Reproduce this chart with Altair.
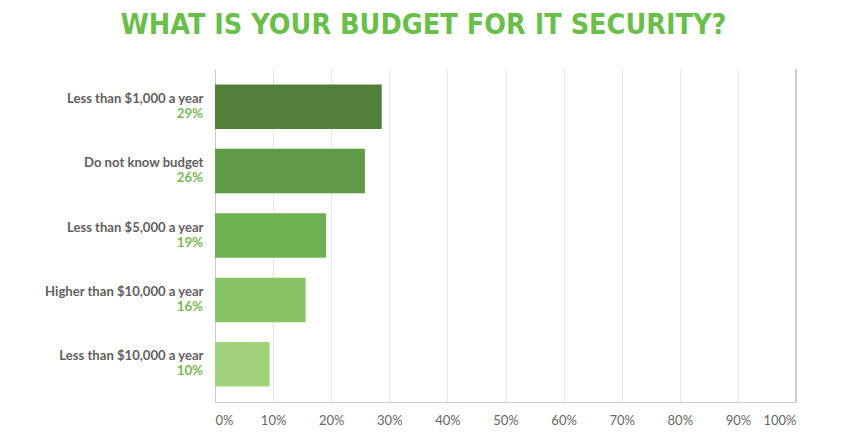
import altair as alt
import pandas as pd

categories = [
    "Less than $1,000 a year",
    "Do not know budget",
    "Less than $5,000 a year",
    "Higher than $10,000 a year",
    "Less than $10,000 a year",
]
values = [28.7, 25.8, 19.1, 15.6, 9.4]
labels = ["29%", "26%", "19%", "16%", "10%"]
colors = ["#517f38", "#5f9a46", "#6db152", "#87c465", "#a0d17b"]
ticks = [0, 10, 20, 30, 40, 50, 60, 70, 80, 90, 100]

df = pd.DataFrame({"category": categories, "value": values, "label": labels})

FONT = "Lato"
y_enc = alt.Y(
    "category:N",
    sort=categories,
    scale=alt.Scale(paddingInner=0.31, paddingOuter=0.24),
    axis=alt.Axis(
        title=None,
        ticks=False,
        domain=True,
        domainColor="#cccccc",
        labelFont=FONT,
        labelFontWeight="bold",
        labelFontSize=13.1,
        labelColor="#5f5f5f",
        labelPadding=12,
        labelOffset=-8,
        labelLimit=300,
    ),
)

bars = alt.Chart(df).mark_bar().encode(
    x=alt.X(
        "value:Q",
        scale=alt.Scale(domain=[0, 100], nice=False),
        axis=alt.Axis(
            title=None,
            values=ticks,
            labelExpr="datum.value + '%'",
            ticks=False,
            domainColor="#cccccc",
            gridColor="#e6e6e6",
            labelFont=FONT,
            labelFontSize=13,
            labelColor="#666666",
            labelPadding=12,
        ),
    ),
    y=y_enc,
    color=alt.Color(
        "category:N",
        scale=alt.Scale(domain=categories, range=colors),
        legend=None,
    ),
)

pct = alt.Chart(df).mark_text(
    align="right", baseline="middle", dy=7, font=FONT, fontWeight="bold",
    fontSize=13.3, color="#78b857",
).encode(
    x=alt.value(-12),
    y=alt.Y("category:N", sort=categories),
    text="label:N",
)

right_rule = alt.Chart(pd.DataFrame({"x": [100]})).mark_rule(color="#bdbdbd", strokeWidth=1.5).encode(
    x="x:Q"
)

chart = (
    alt.layer(bars, pct, right_rule)
    .properties(
        width=581,
        height=333,
        title=alt.Title(
            "WHAT IS YOUR BUDGET FOR IT SECURITY?",
            font="DejaVu Sans Condensed, sans-serif",
            fontSize=28.5,
            fontWeight="bold",
            color="#6abf4b",
            anchor="middle",
            dx=-82,
            offset=29,
        ),
        autosize=alt.AutoSizeParams(type="none"),
        padding={"left": 207, "top": 61, "right": 30, "bottom": 40},
    )
    .configure_view(stroke=None)
)

chart.save("out.html", embed_options={"renderer": "svg", "actions": False})
